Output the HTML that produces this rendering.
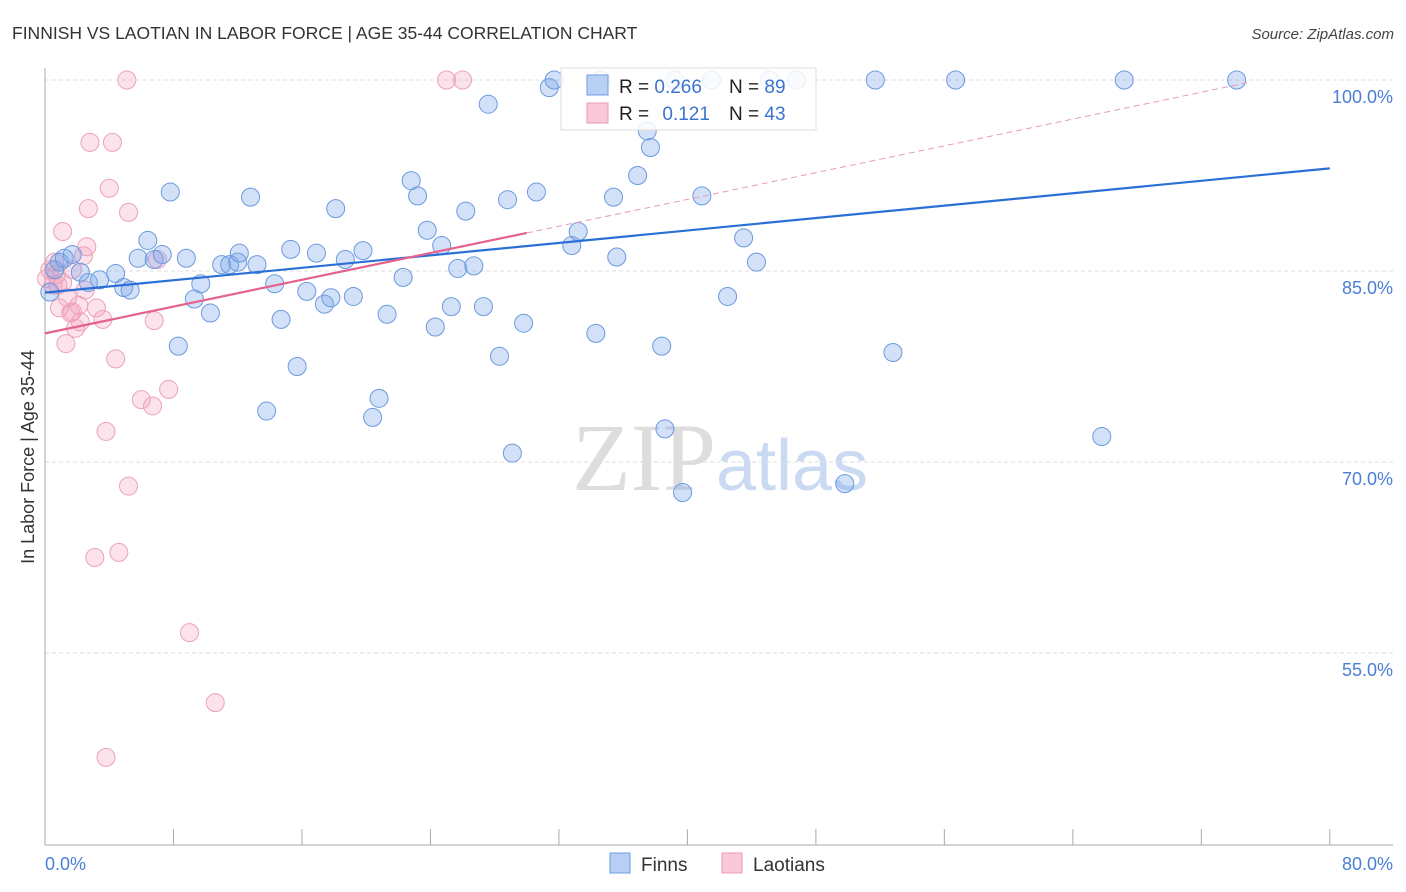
<!DOCTYPE html>
<html><head><meta charset="utf-8"><style>
body{margin:0;background:#fff;font-family:"Liberation Sans",sans-serif}
#wrap{position:relative;width:1406px;height:892px;overflow:hidden}
</style></head><body>
<div id="wrap">
<svg id="svg" width="1406" height="892" xmlns="http://www.w3.org/2000/svg">
<text x="12" y="39" font-size="17.5" fill="#333">FINNISH VS LAOTIAN IN LABOR FORCE | AGE 35-44 CORRELATION CHART</text>
<text x="1394" y="39" font-size="15" fill="#444" text-anchor="end" font-style="italic">Source: ZipAtlas.com</text>
<text x="716" y="490" font-size="96" fill="#ddd" text-anchor="end" font-family="Liberation Serif">ZIP</text>
<text x="716" y="490" font-size="72" fill="#c9daf2">atlas</text>
<g id="grid"></g>
<g id="axes"></g>
<g id="pts"></g>
<g id="lines"></g>
<g>
<rect x="561" y="68" width="255" height="62" fill="#fff" fill-opacity="0.85" stroke="#ddd"/>
<rect x="587" y="75" width="21" height="20" fill="#b8d0f3" stroke="#6d9ce0"/>
<rect x="587" y="103" width="21" height="20" fill="#fac8d8" stroke="#e99ab5"/>
<text x="619" y="93" font-size="19" fill="#222">R = <tspan fill="#3b74d0">0.266</tspan></text>
<text x="729" y="93" font-size="19" fill="#222">N = <tspan fill="#3b74d0">89</tspan></text>
<text x="619" y="120" font-size="19" fill="#222">R = <tspan fill="#3b74d0" dx="8">0.121</tspan></text>
<text x="729" y="120" font-size="19" fill="#222">N = <tspan fill="#3b74d0">43</tspan></text>
</g>
<text transform="translate(34,457) rotate(-90)" font-size="18" fill="#333" text-anchor="middle">In Labor Force | Age 35-44</text>
<g>
<rect x="610" y="853" width="20" height="20" fill="#b8d0f3" stroke="#6d9ce0"/>
<text x="641" y="871" font-size="19" fill="#333">Finns</text>
<rect x="722" y="853" width="20" height="20" fill="#fac8d8" stroke="#e99ab5"/>
<text x="753" y="871" font-size="19" fill="#333">Laotians</text>
</g>
</svg>
</div>
<script>
const finnsX=[0.3,0.6,0.9,1.2,1.7,2.2,2.7,3.4,4.4,4.9,5.3,5.8,6.4,6.8,7.3,7.8,8.3,8.8,9.3,9.7,10.3,11.0,11.5,12.0,12.1,12.8,13.2,13.8,14.3,14.7,15.3,15.7,16.3,16.9,17.4,17.8,18.1,18.7,19.2,19.8,20.4,20.8,21.3,22.3,22.8,23.2,23.8,24.3,24.7,25.3,25.7,26.2,26.7,27.3,27.6,28.3,28.8,29.1,29.8,30.6,31.4,31.7,32.8,33.2,34.3,34.6,35.4,35.6,36.9,37.5,37.7,38.4,38.6,39.2,39.7,40.9,41.5,42.5,43.5,44.3,45.1,46.8,49.8,51.7,52.8,56.7,65.8,67.2,74.2];
const finnsY=[83.35,85.1,85.7,86.0,86.3,84.9,84.1,84.3,84.8,83.7,83.5,86.0,87.4,85.9,86.3,91.2,79.1,86.0,82.8,84.0,81.7,85.5,85.5,85.7,86.4,90.8,85.5,74.0,84.0,81.2,86.7,77.5,83.4,86.4,82.4,82.9,89.9,85.9,83.0,86.6,73.5,75.0,81.6,84.5,92.1,90.9,88.2,80.6,87.0,82.2,85.2,89.7,85.4,82.2,98.1,78.3,90.6,70.7,80.9,91.2,99.4,100,87.0,88.1,80.1,100,90.8,86.1,92.5,96.0,94.7,79.1,72.6,100,67.6,90.9,100,83.0,87.6,85.7,100,100,68.3,100,78.6,100,72.0,100,100];
const laoX=[0.1,0.3,0.5,0.6,0.7,0.9,1.1,1.1,1.3,1.6,1.7,1.9,2.1,2.2,2.4,2.6,2.7,2.8,3.2,3.6,3.8,4.0,4.2,4.4,4.6,5.1,5.2,5.2,6.0,6.7,6.8,7.0,7.7,9.0,10.6,3.8,3.1,25.0,26.0,1.7,0.8,2.5,1.4];
const laoY=[84.4,85.1,83.9,85.7,84.7,82.1,84.1,88.1,79.3,81.7,81.8,80.5,82.3,81.0,86.2,86.9,89.9,95.1,82.1,81.2,72.4,91.5,95.1,78.1,62.9,100,68.1,89.6,74.9,74.4,81.1,85.9,75.7,56.6,51.1,46.8,62.5,100,100,85.1,83.9,83.5,82.9];
const yTicks=[100,85,70,55];
const yTickLabels=["100.0%","85.0%","70.0%","55.0%"];
const xTicks=[0,8,16,24,32,40,48,56,64,72,80];
const finnsTrend=[83.3,0.122];
const laoTrend=[80.1,0.263];
const X=v=>45+v*16.06, Y=v=>80+(100-v)*12.733;
const NS="http://www.w3.org/2000/svg";
function mk(t,a,p){const e=document.createElementNS(NS,t);for(const k in a)e.setAttribute(k,a[k]);p.appendChild(e);return e;}
const grid=document.getElementById('grid'),axes=document.getElementById('axes'),pts=document.getElementById('pts'),lines=document.getElementById('lines');
yTicks.forEach((v,i)=>{
 const l=mk('line',{x1:45,x2:1393,y1:Y(v),y2:Y(v),stroke:'#ddd','stroke-dasharray':'4,3'},grid);
 
 
 const t=mk('text',{x:1393,y:Y(v)+23,'font-size':18,fill:'#4a7fd6','text-anchor':'end'},axes);
 t.textContent=yTickLabels[i];
 
 
});
mk('line',{x1:45,x2:45,y1:68,y2:845,stroke:'#aaa'},axes);
mk('line',{x1:45,x2:1393,y1:845,y2:845,stroke:'#aaa'},axes);
xTicks.forEach(v=>{const l=mk('line',{x1:X(v),x2:X(v),y1:829,y2:845,stroke:'#aaa'},axes);
 
 });
[[0,"0.0%","start",45],[80,"80.0%","end",1393]].forEach(d=>{const t=mk('text',{x:d[3],y:870,'font-size':18,fill:'#4a7fd6','text-anchor':d[2]},axes);t.textContent=d[1];
 
 });
laoX.forEach((x,i)=>{const c=mk('circle',{cx:X(x),cy:Y(laoY[i]),r:9,fill:'rgba(246,160,190,0.3)',stroke:'#eba2bb','stroke-width':1},pts);
 
 });
finnsX.forEach((x,i)=>{const c=mk('circle',{cx:X(x),cy:Y(finnsY[i]),r:9,fill:'rgba(120,165,235,0.33)',stroke:'#6b9ade','stroke-width':1},pts);
 
 });
let l=mk('line',{x1:X(0),y1:Y(finnsTrend[0]),x2:X(80),y2:Y(finnsTrend[0]+80*finnsTrend[1]),stroke:'#2a6fd6','stroke-width':2.2},lines);


l=mk('line',{x1:X(0),y1:Y(laoTrend[0]),x2:X(30),y2:Y(laoTrend[0]+30*laoTrend[1]),stroke:'#e4628f','stroke-width':2.2},lines);


l=mk('line',{x1:X(30),y1:Y(laoTrend[0]+30*laoTrend[1]),x2:X(75),y2:Y(laoTrend[0]+75*laoTrend[1]),stroke:'#e99ab5','stroke-width':1,'stroke-dasharray':'6,4'},lines);


</script>
</body></html>
